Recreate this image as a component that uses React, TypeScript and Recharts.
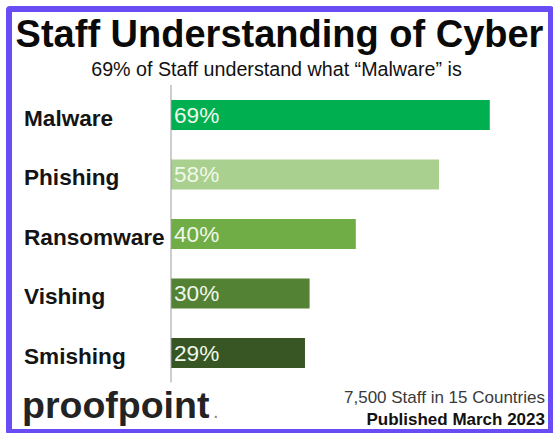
import React from 'react';
import { BarChart, Bar, XAxis, YAxis, Cell, LabelList } from 'recharts';

const categories = ['Malware', 'Phishing', 'Ransomware', 'Vishing', 'Smishing'];
const values = [69, 58, 40, 30, 29];
const title = 'Staff Understanding of Cyber';
const subtitle = '69% of Staff understand what \u201cMalware\u201d is';
const noteLine1 = '7,500 Staff in 15 Countries';
const noteLine2 = 'Published March 2023';
const logoText = 'proofpoint';

const barColors = ['#00b050', '#a9d08e', '#70ad47', '#548235', '#375623'];

const data = categories.map((name, i) => ({ name, value: values[i] }));

const FONT = '"Liberation Sans", Arial, Helvetica, sans-serif';
const LEFT_LABEL_X = 24;

const CategoryTick = (props: any) => {
  const { y, payload } = props;
  return (
    <text
      x={LEFT_LABEL_X}
      y={y}
      dy={11}
      textAnchor="start"
      fontFamily={FONT}
      fontWeight="bold"
      fontSize={22.6}
      fill="#141414"
    >
      {payload.value}
    </text>
  );
};

export default function App() {
  return (
    <div
      style={{
        position: 'absolute',
        left: 0,
        top: 0,
        width: 553,
        height: 433,
        overflow: 'hidden',
        background: '#ffffff',
      }}
    >
      <div
        style={{
          position: 'absolute',
          left: 6,
          top: 6,
          width: 548,
          height: 429,
          boxSizing: 'border-box',
          border: '6px solid #6a4cf4',
          borderRadius: 4,
          background: '#ffffff',
        }}
      />
      <div style={{ position: 'absolute', left: 0, top: 0 }}>
        <BarChart
          width={553}
          height={433}
          data={data}
          layout="vertical"
          margin={{ top: 85, right: 12.4, bottom: 50.5, left: LEFT_LABEL_X }}
          barCategoryGap="25%"
        >
          <XAxis type="number" domain={[0, 80]} hide />
          <YAxis
            type="category"
            dataKey="name"
            width={147}
            axisLine={{ stroke: '#9c9c9c', strokeWidth: 1 }}
            tickLine={false}
            tick={CategoryTick}
            interval={0}
          />
          <Bar dataKey="value" isAnimationActive={false}>
            {data.map((d, i) => (
              <Cell key={d.name} fill={barColors[i]} />
            ))}
            <LabelList
              dataKey="value"
              position="insideLeft"
              offset={3}
              formatter={(v: any) => `${v}%`}
              fill="#f0f8ea"
              fontFamily={FONT}
              fontSize={22.6}
            />
          </Bar>
        </BarChart>
      </div>
      <svg
        width={553}
        height={433}
        style={{ position: 'absolute', left: 0, top: 0, pointerEvents: 'none' }}
      >
        <text
          x={279.5}
          y={47}
          textAnchor="middle"
          fontFamily={FONT}
          fontWeight="bold"
          fontSize={38}
          fill="#0a0a0a"
        >
          {title}
        </text>
        <text
          x={276.5}
          y={76}
          textAnchor="middle"
          fontFamily={FONT}
          fontSize={19.7}
          fill="#111111"
        >
          {subtitle}
        </text>
        <text
          x={22}
          y={418}
          fontFamily={FONT}
          fontWeight="bold"
          fontSize={37.5}
          fill="#232323"
        >
          {logoText}
        </text>
        <text x={213} y={418} fontFamily={FONT} fontSize={20} fill="#8a8a8a">
          .
        </text>
        <text
          x={545}
          y={403}
          textAnchor="end"
          fontFamily={FONT}
          fontSize={17}
          fill="#3a3a3a"
        >
          {noteLine1}
        </text>
        <text
          x={545}
          y={425}
          textAnchor="end"
          fontFamily={FONT}
          fontWeight="bold"
          fontSize={17}
          fill="#111111"
        >
          {noteLine2}
        </text>
      </svg>
    </div>
  );
}
